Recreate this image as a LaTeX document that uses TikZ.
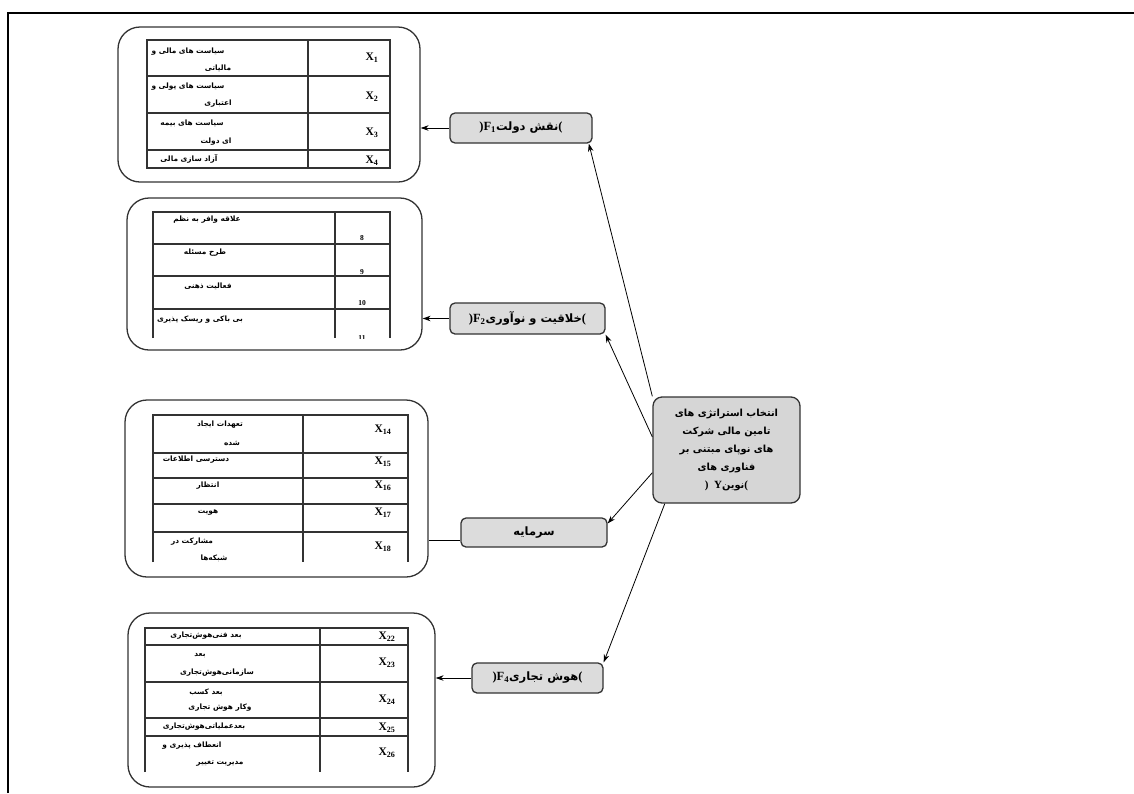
\documentclass[tikz,border=0pt]{standalone}
\usepackage{fontspec}
\setmainfont{Liberation Serif}
\newfontfamily\faf[Script=Arabic]{DejaVu Sans}
\TeXXeTstate=1
\usetikzlibrary{arrows.meta,calc}
\definecolor{edge}{HTML}{333333}
\definecolor{boxfill}{HTML}{DCDCDC}
\definecolor{cfill}{HTML}{D6D6D6}
\newcommand{\lat}[2][12.5]{\hbox{\textrm{\bfseries\fontsize{#1}{12}\selectfont #2}}}
\newcommand{\per}[1]{\hbox{\beginR #1\endR}}
\begin{document}
\begin{tikzpicture}[x=1pt,y=-1pt,
  outerbox/.style={draw=edge,line width=1.3pt,rounded corners=22pt,fill=white,inner sep=0,minimum width=#1},
  midbox/.style={draw=edge,line width=1.3pt,rounded corners=5pt,fill=boxfill,inner sep=0,font=\faf\bfseries\fontsize{11.5}{12}\selectfont},
  tab/.style={draw=edge,line width=1.1pt},
  fa/.style={font=\faf\bfseries\fontsize{7.4}{9}\selectfont,inner sep=0},
  xl/.style={font=\fontsize{11.5}{12}\selectfont\bfseries,inner sep=0},
  nl/.style={font=\fontsize{7.5}{8}\selectfont\bfseries,inner sep=0},
  conn/.style={draw=black,line width=0.8pt},
  arr/.style={conn,-{Stealth[length=8pt,width=5.5pt]}}]
\useasboundingbox (0,0) rectangle (1134,793);
% frame
\draw[line width=2.5pt,black] (8,793) -- (8,13) -- (1134,13);

% outer rounded boxes
\node[outerbox=302pt,minimum height=155pt] (b1) at (269,104.5) {};
\node[outerbox=295pt,minimum height=152pt] (b2) at (274.5,274) {};
\node[outerbox=303pt,minimum height=177pt] (b3) at (276.5,488.5) {};
\node[outerbox=307pt,minimum height=174pt] (b4) at (281.5,700) {};

% table 1
\draw[tab] (147,40) rectangle (390,168);
\draw[tab] (308,40) -- (308,168);
\foreach \yy in {76,113,150} \draw[tab] (147,\yy) -- (390,\yy);
% table 2
\draw[tab] (153,338) -- (153,212) -- (390,212) -- (390,338);
\draw[tab] (335,212) -- (335,338);
\foreach \yy in {244,276,309} \draw[tab] (153,\yy) -- (390,\yy);
% table 3
\draw[tab] (153,562) -- (153,415) -- (408,415) -- (408,562);
\draw[tab] (303,415) -- (303,562);
\foreach \yy in {453,478,504,532} \draw[tab] (153,\yy) -- (408,\yy);
% table 4
\draw[tab] (145,772) -- (145,628) -- (408,628) -- (408,772);
\draw[tab] (320,628) -- (320,772);
\foreach \yy in {645,682,718,736} \draw[tab] (145,\yy) -- (408,\yy);

% table 1 texts
\node[fa] (t11a) at (188,52) {\beginR سیاست های مالی و\endR};
\node[fa] (t11b) at (218,68) {\beginR مالیاتی\endR};
\node[xl] (x1) at (372,58) {X\textsubscript{1}};
\node[fa] (t12a) at (188,87) {\beginR سیاست های پولی و\endR};
\node[fa] (t12b) at (218,104) {\beginR اعتباری\endR};
\node[xl] (x2) at (372,97) {X\textsubscript{2}};
\node[fa] (t13a) at (192,123) {\beginR سیاست های بیمه\endR};
\node[fa] (t13b) at (216,142) {\beginR ای دولت\endR};
\node[xl] (x3) at (372,133) {X\textsubscript{3}};
\node[fa] (t14) at (189,159) {\beginR آزاد سازی مالی\endR};
\node[xl] (x4) at (372,161) {X\textsubscript{4}};

% table 2 texts
\node[fa] (t21) at (207,220) {\beginR علاقه وافر به نظم\endR};
\node[nl] (n8) at (362,238) {8};
\node[fa] (t22) at (205,253) {\beginR طرح مسئله\endR};
\node[nl] (n9) at (362,272) {9};
\node[fa] (t23) at (208,286) {\beginR فعالیت ذهنی\endR};
\node[nl] (n10) at (362,303) {10};
\node[fa] (t24) at (200,320) {\beginR بی باکی و ریسک پذیری\endR};
\begin{scope}
\clip (300,320) rectangle (400,338.5);
\node[nl] (n11) at (362,338) {11};
\end{scope}

% table 3 texts
\node[fa] (t31a) at (220,425) {\beginR تعهدات ایجاد\endR};
\node[fa] (t31b) at (232,443) {\beginR شده\endR};
\node[xl] (x14) at (383,430) {X\textsubscript{14}};
\node[fa] (t32) at (196,460) {\beginR دسترسی اطلاعات\endR};
\node[xl] (x15) at (383,462) {X\textsubscript{15}};
\node[fa] (t33) at (208,486) {\beginR انتظار\endR};
\node[xl] (x16) at (383,486) {X\textsubscript{16}};
\node[fa] (t34) at (208,513) {\beginR هویت\endR};
\node[xl] (x17) at (383,513) {X\textsubscript{17}};
\node[fa] (t35a) at (192,542) {\beginR مشارکت در\endR};
\node[fa] (t35b) at (214,558) {\beginR شبکه‌ها\endR};
\node[xl] (x18) at (383,547) {X\textsubscript{18}};

% table 4 texts
\node[fa] (t41) at (206,636) {\beginR بعد فنی‌هوش‌تجاری\endR};
\node[xl] (x22) at (387,637) {X\textsubscript{22}};
\node[fa] (t42a) at (200,656) {\beginR بعد\endR};
\node[fa] (t42b) at (217,673) {\beginR سازمانی‌هوش‌تجاری\endR};
\node[xl] (x23) at (387,663) {X\textsubscript{23}};
\node[fa] (t43a) at (206,692) {\beginR بعد کسب\endR};
\node[fa] (t43b) at (220,708) {\beginR وکار هوش تجاری\endR};
\node[xl] (x24) at (387,700) {X\textsubscript{24}};
\node[fa] (t44) at (204,727) {\beginR بعدعملیاتی‌هوش‌تجاری\endR};
\node[xl] (x25) at (387,728) {X\textsubscript{25}};
\node[fa] (t45a) at (192,746) {\beginR انعطاف پذیری و\endR};
\node[fa] (t45b) at (220,763) {\beginR مدیریت تغییر\endR};
\node[xl] (x26) at (387,753) {X\textsubscript{26}};

% middle boxes
\node[midbox,minimum width=142pt,minimum height=30pt] (f1) at (521,128)
  {\lat{)F\textsubscript{1}}\per{نقش دولت}\lat{(}};
\node[midbox,minimum width=155pt,minimum height=31pt] (f2) at (527.5,318.5)
  {\lat{)F\textsubscript{2}}\per{خلاقیت و نوآوری}\lat{(}};
\node[midbox,minimum width=146pt,minimum height=29pt] (s) at (534,532.5)
  {\per{سرمایه}};
\node[midbox,minimum width=131pt,minimum height=30pt] (f4) at (537.5,678)
  {\lat{)F\textsubscript{4}}\per{هوش تجاری}\lat{(}};

% central node
\node[draw=edge,line width=1.3pt,rounded corners=9pt,fill=cfill,minimum width=147pt,minimum height=106pt,
      inner sep=0,align=center,font=\faf\bfseries\fontsize{9.8}{18}\selectfont] (c) at (726.5,450)
  {\beginR انتخاب استراتژی های\endR\\
   \beginR تامین مالی شرکت\endR\\
   \beginR های نوپای مبتنی بر\endR\\
   \beginR فناوری های\endR\\
   \lat[11]{)\ \ Y}\per{نوین}\lat[11]{(}};

% connectors
\draw[arr] (c.north west) -- (f1.-13);
\draw[arr] (c.170) -- (f2.south east);
\draw[arr] (c.197) -- (s.7);
\draw[arr] (c.221) -- (f4.north east);

\draw[arr] (f1.west) -- (f1.west -| b1.east);
\draw[arr] (f2.west) -- (f2.west -| b2.east);
\draw[conn] (s.186) -- (s.186 -| b3.east);
\draw[arr] (f4.west) -- (f4.west -| b4.east);
\end{tikzpicture}
\end{document}
